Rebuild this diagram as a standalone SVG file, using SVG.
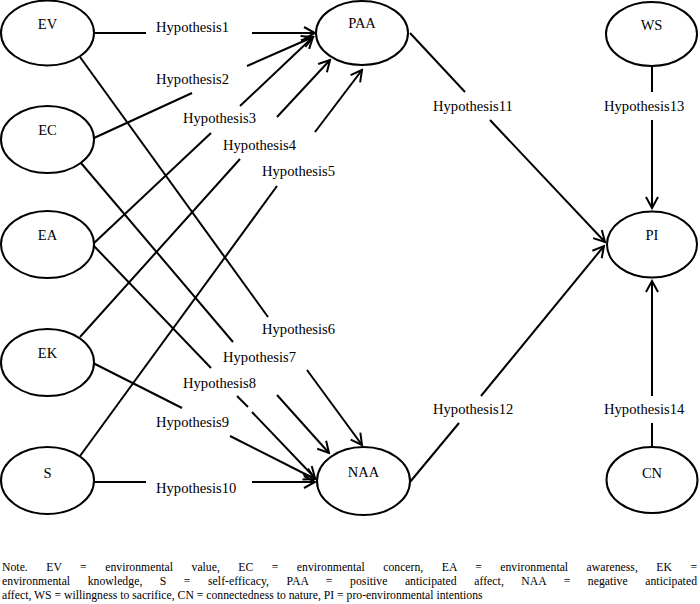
<svg xmlns="http://www.w3.org/2000/svg" width="700" height="604" viewBox="0 0 700 604">
<style>
  .node ellipse { fill: #fff; stroke: #000; stroke-width: 2; }
  .node text { font-family: "Liberation Serif", "Times New Roman", serif; font-size: 14.5px; text-anchor: middle; fill: #000; }
  .conn line { stroke: #000; stroke-width: 2; fill: none; }
  .lbl { font-family: "Liberation Serif", "Times New Roman", serif; font-size: 14.6px; fill: #000; }
  .note { font-family: "Liberation Serif", "Times New Roman", serif; font-size: 11.7px; fill: #000; }
</style>
<defs>
  <marker id="arr" markerUnits="userSpaceOnUse" viewBox="-13 -8 15 16" refX="0" refY="0" markerWidth="15" markerHeight="16" orient="auto">
    <path d="M-11,-6 L0,0 L-11,6" fill="none" stroke="#000" stroke-width="2"/>
  </marker>
</defs>
<rect width="700" height="604" fill="#fff"/>

<g id="connectors" class="conn">
  <g id="h1"><line x1="94" y1="33" x2="146" y2="33"/><line x1="252" y1="33" x2="315" y2="33" marker-end="url(#arr)"/></g>
  <g id="h2"><line x1="94" y1="138" x2="192" y2="93"/><line x1="247" y1="66" x2="313" y2="37" marker-end="url(#arr)"/></g>
  <g id="h3"><line x1="93" y1="244" x2="211" y2="133"/><line x1="240" y1="106" x2="313" y2="37" marker-end="url(#arr)"/></g>
  <g id="h4"><line x1="80" y1="337" x2="240" y2="159"/><line x1="277" y1="117" x2="330" y2="60" marker-end="url(#arr)"/></g>
  <g id="h5"><line x1="80" y1="456" x2="277" y2="186"/><line x1="315" y1="132" x2="362" y2="70" marker-end="url(#arr)"/></g>
  <g id="h6"><line x1="80" y1="57" x2="268" y2="317"/><line x1="307" y1="370" x2="362" y2="445" marker-end="url(#arr)"/></g>
  <g id="h7"><line x1="81" y1="163" x2="233" y2="342"/><line x1="277" y1="395" x2="329" y2="453" marker-end="url(#arr)"/></g>
  <g id="h8"><line x1="93" y1="245" x2="211" y2="368"/><line x1="237" y1="396" x2="248" y2="407"/><line x1="252" y1="412" x2="315" y2="478" marker-end="url(#arr)"/></g>
  <g id="h9"><line x1="93" y1="363" x2="182" y2="408"/><line x1="230" y1="436" x2="315" y2="479" marker-end="url(#arr)"/></g>
  <g id="h10"><line x1="94" y1="482" x2="146" y2="482"/><line x1="252" y1="482" x2="315" y2="482" marker-end="url(#arr)"/></g>
  <g id="h11"><line x1="410" y1="33" x2="465" y2="92"/><line x1="490" y1="120" x2="605" y2="242" marker-end="url(#arr)"/></g>
  <g id="h12"><line x1="410" y1="482" x2="459" y2="423"/><line x1="481" y1="396" x2="604" y2="246" marker-end="url(#arr)"/></g>
  <g id="h13"><line x1="652" y1="66" x2="652" y2="92"/><line x1="652" y1="120" x2="652" y2="208" marker-end="url(#arr)"/></g>
  <g id="h14"><line x1="652" y1="447" x2="652" y2="423"/><line x1="652" y1="396" x2="652" y2="281" marker-end="url(#arr)"/></g>
</g>

<g id="labels" class="lbl">
  <text x="156" y="32">Hypothesis1</text>
  <text x="156" y="84">Hypothesis2</text>
  <text x="183" y="123">Hypothesis3</text>
  <text x="223" y="150">Hypothesis4</text>
  <text x="262" y="176">Hypothesis5</text>
  <text x="262" y="334">Hypothesis6</text>
  <text x="223" y="362">Hypothesis7</text>
  <text x="183" y="388">Hypothesis8</text>
  <text x="156" y="427">Hypothesis9</text>
  <text x="156" y="493">Hypothesis10</text>
  <text x="433" y="111">Hypothesis11</text>
  <text x="433" y="414">Hypothesis12</text>
  <text x="604" y="111">Hypothesis13</text>
  <text x="604" y="414">Hypothesis14</text>
</g>

<g id="node-EV" class="node"><ellipse cx="47.5" cy="33" rx="46.5" ry="32.5"/><text x="47.5" y="29">EV</text></g>
<g id="node-EC" class="node"><ellipse cx="47.5" cy="139.5" rx="46.5" ry="33.5"/><text x="47.5" y="135">EC</text></g>
<g id="node-EA" class="node"><ellipse cx="47.5" cy="244.5" rx="46.5" ry="33.5"/><text x="47.5" y="240">EA</text></g>
<g id="node-EK" class="node"><ellipse cx="47.5" cy="362.5" rx="46.5" ry="33.5"/><text x="47.5" y="358">EK</text></g>
<g id="node-S" class="node"><ellipse cx="47.5" cy="480.5" rx="46.5" ry="33.5"/><text x="47.5" y="478">S</text></g>
<g id="node-PAA" class="node"><ellipse cx="362" cy="33" rx="46" ry="32"/><text x="362" y="28">PAA</text></g>
<g id="node-NAA" class="node"><ellipse cx="363.5" cy="481" rx="46.5" ry="34"/><text x="363.5" y="477">NAA</text></g>
<g id="node-WS" class="node"><ellipse cx="651.5" cy="34" rx="45.5" ry="32"/><text x="651.5" y="30">WS</text></g>
<g id="node-PI" class="node"><ellipse cx="652" cy="244.5" rx="45" ry="33"/><text x="652" y="240">PI</text></g>
<g id="node-CN" class="node"><ellipse cx="652" cy="480" rx="45.5" ry="33"/><text x="652" y="478">CN</text></g>

<g id="note" class="note">
  <text x="2" y="571" word-spacing="15.5" textLength="695" lengthAdjust="spacing">Note. EV = environmental value, EC = environmental concern, EA = environmental awareness, EK =</text>
  <text x="2" y="585" word-spacing="14.5" textLength="695" lengthAdjust="spacing">environmental knowledge, S = self-efficacy, PAA = positive anticipated affect, NAA = negative anticipated</text>
  <text x="2" y="599">affect, WS = willingness to sacrifice, CN = connectedness to nature, PI = pro-environmental intentions</text>
</g>
</svg>
